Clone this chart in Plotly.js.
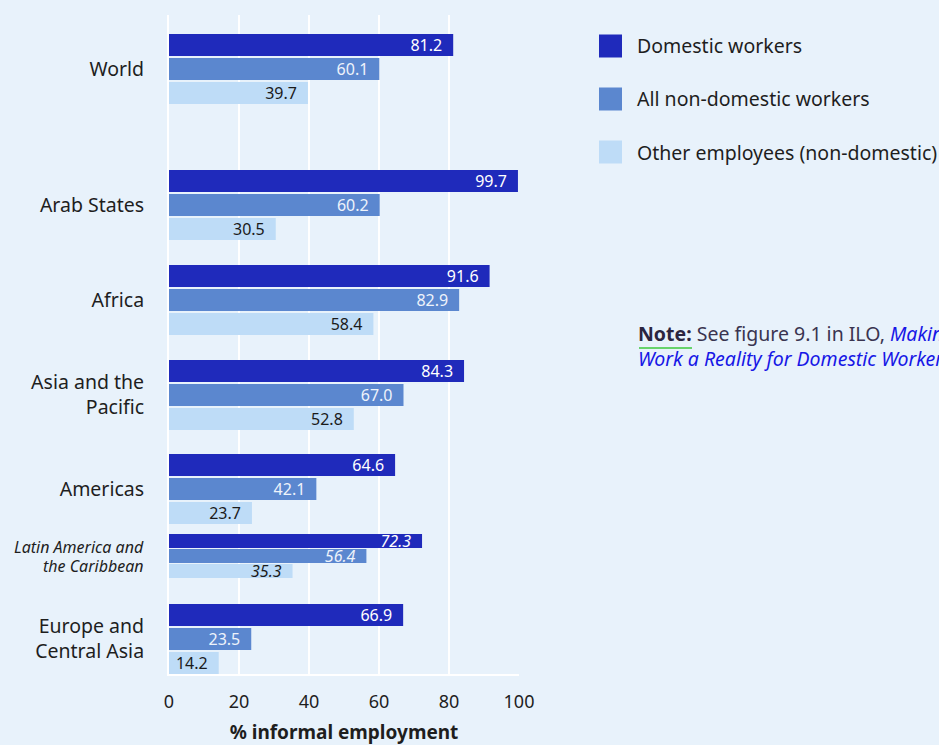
<!DOCTYPE html>
<html>
<head>
<meta charset="utf-8">
<script src="https://cdn.plot.ly/plotly-3.0.1.min.js"></script>
<style>
  html, body { margin: 0; padding: 0; background: #e8f2fb; }
  #chart { width: 939px; height: 745px; }
</style>
</head>
<body>
<div id="chart"></div>
<script>
// ---- data ----
const regions = ["World", "Arab States", "Africa", "Asia and the Pacific", "Americas", "Latin America and the Caribbean", "Europe and Central Asia"];
const regionLabels = [
  "World",
  "Arab States",
  "Africa",
  "Asia and the<br>Pacific",
  "Americas",
  "",
  "Europe and<br>Central Asia"
];
const subRegionLines = ["Latin America and", "the Caribbean"];
const seriesNames = ["Domestic workers", "All non-domestic workers", "Other employees (non-domestic)"];
const domestic    = [81.2, 99.7, 91.6, 84.3, 64.6, 72.3, 66.9];
const nonDomestic = [60.1, 60.2, 82.9, 67.0, 42.1, 56.4, 23.5];
const otherEmp    = [39.7, 30.5, 58.4, 52.8, 23.7, 35.3, 14.2];
const xTicks = [0, 20, 40, 60, 80, 100];

// ---- layout helpers (positions / styles) ----
const rowPos = [54, 190, 285, 380, 474, 541, 624];   // row centres on the y scale
const subRow = [false, false, false, false, false, true, false]; // sub-region rows drawn thinner
const colors = ["#1f2abb", "#5b87cf", "#bedcf7"];
const textColors = ["#ffffff", "#eef3fb", "#1a1a1a"];
const bg = "#e8f2fb";
const W = 939, H = 745, L = 169, R = 420, T = 15, B = 71;
const pw = W - L - R, ph = H - T - B;
const px = v => (v - L) / pw;
const py = v => 1 - (v - T) / ph;

const allSeries = [domestic, nonDomestic, otherEmp];
const traces = allSeries.map((vals, i) => {
  const widths = rowPos.map((p, g) => subRow[g] ? 14 : 22);
  const offsets = rowPos.map((p, g) => {
    const pitch = subRow[g] ? 15 : 24;
    const w = subRow[g] ? 14 : 22;
    return (i - 1) * pitch - w / 2;
  });
  const txt = vals.map((v, g) => {
    const s = v.toFixed(1) + "\u2002";
    return subRow[g] ? "<i>" + s + "</i>" : s;
  });
  return {
    type: "bar",
    orientation: "h",
    name: seriesNames[i],
    x: vals,
    y: rowPos,
    width: widths,
    offset: offsets,
    marker: { color: colors[i], line: { width: 0 } },
    text: txt,
    textposition: "inside",
    insidetextanchor: "end",
    constraintext: "none",
    textangle: 0,
    textfont: { family: "Noto Sans", size: 16, color: textColors[i] },
    hoverinfo: "skip",
    showlegend: false,
    cliponaxis: false
  };
});

// custom legend
const shapes = [];
const annotations = [];
const legY = [46, 99, 152];
seriesNames.forEach((n, i) => {
  shapes.push({
    type: "rect", xref: "paper", yref: "paper",
    x0: px(599), x1: px(622), y0: py(legY[i] - 11.5), y1: py(legY[i] + 11.5),
    fillcolor: colors[i], line: { width: 0 }
  });
  annotations.push({
    xref: "paper", yref: "paper", x: px(635), y: py(legY[i]),
    xanchor: "left", yanchor: "middle", showarrow: false,
    text: n, font: { family: "Noto Sans", size: 19.5, color: "#1e1e1e" }
  });
});

// sub-region label (italic, smaller)
const subLineY = [547, 566];
subRegionLines.forEach((t, k) => {
  annotations.push({
    xref: "paper", yref: "paper", x: px(146), y: py(subLineY[k]),
    xanchor: "right", yanchor: "middle", showarrow: false,
    text: "<i>" + t + "</i>", font: { family: "Noto Sans", size: 16, color: "#1e1e1e" }
  });
});

// note
annotations.push({
  xref: "paper", yref: "paper", x: px(636), y: py(346),
  xanchor: "left", yanchor: "middle", showarrow: false, align: "left",
  text: "<b><span style=\"color:#2b2540\">Note:</span></b> See figure 9.1 in ILO, <i><span style=\"color:#1717e6\">Making Decent</span></i><br><i><span style=\"color:#1717e6\">Work a Reality for Domestic Workers</span></i>",
  font: { family: "Noto Sans", size: 19.5, color: "#3a3450" }
});
shapes.push({
  type: "line", xref: "paper", yref: "paper",
  x0: px(639), x1: px(692), y0: py(348), y1: py(348),
  line: { color: "#3cc93c", width: 1.5 }
});

const layout = {
  width: W, height: H,
  margin: { l: L, r: R, t: T, b: B, pad: 0 },
  paper_bgcolor: bg, plot_bgcolor: bg,
  barmode: "overlay",
  font: { family: "Noto Sans", size: 18, color: "#1e1e1e" },
  xaxis: {
    range: [0, 100],
    tickvals: xTicks,
    ticktext: xTicks.map(String),
    showgrid: true, gridcolor: "#ffffff", gridwidth: 2,
    zeroline: false,
    showline: true, linecolor: "#ffffff", linewidth: 2,
    ticks: "", ticklabelstandoff: 10,
    tickfont: { family: "Noto Sans", size: 18, color: "#1e1e1e" },
    title: { text: "<b>% informal employment</b>", standoff: 24,
             font: { family: "Noto Sans", size: 19, color: "#1e1e1e" } },
    fixedrange: true
  },
  yaxis: {
    range: [ph, 0],
    tickvals: rowPos,
    ticktext: regionLabels,
    showgrid: false, zeroline: false,
    showline: true, linecolor: "#ffffff", linewidth: 2,
    ticks: "", ticklabelstandoff: 19,
    tickfont: { family: "Noto Sans", size: 19.5, color: "#1e1e1e" },
    fixedrange: true
  },
  shapes: shapes,
  annotations: annotations,
  showlegend: false,
  hovermode: false
};

Plotly.newPlot("chart", traces, layout, { displayModeBar: false, staticPlot: true });
</script>
</body>
</html>
